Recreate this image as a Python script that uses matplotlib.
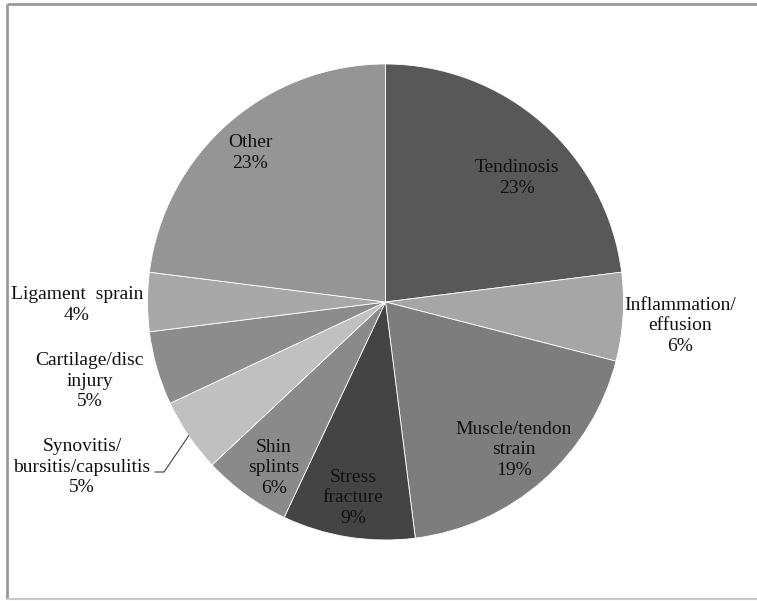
import numpy as np
import matplotlib
matplotlib.use('Agg')
import matplotlib.pyplot as plt

# injury types, clockwise from 12 o'clock
injuries = ['Tendinosis', 'Inflammation/\neffusion', 'Muscle/tendon\nstrain', 'Stress\nfracture',
            'Shin\nsplints', 'Synovitis/\nbursitis/capsulitis', 'Cartilage/disc\ninjury',
            'Ligament  sprain', 'Other']
percent = [23, 6, 19, 9, 6, 5, 5, 4, 23]
shades = ['#585858', '#a6a6a6', '#7d7d7d', '#444444', '#8a8a8a', '#c0c0c0', '#8c8c8c', '#a8a8a8', '#959595']

# where each label sits (pixel units, y measured from the top)
label_xy = [(517, 178), (680, 326), (514, 450), (353, 498), (274, 468),
            (82, 467), (90, 381), (77, 305), (250, 153)]

W, H = 757, 601
cx, cy, r = 385.5, 302, 238

plt.rcParams['font.family'] = ['Liberation Serif', 'DejaVu Serif']

fig = plt.figure(figsize=(W / 100, H / 100), dpi=100)
ax = fig.add_axes([0, 0, 1, 1])

wedges, _ = ax.pie(percent, colors=shades, startangle=90, counterclock=False,
                   center=(cx, H - cy), radius=r, frame=True,
                   wedgeprops=dict(edgecolor='white', linewidth=0.6))
ax.set_xlim(0, W)
ax.set_ylim(0, H)
ax.set_aspect('equal')
ax.axis('off')

for name, pct, (lx, ly) in zip(injuries, percent, label_xy):
    ax.text(lx, H - ly, f'{name}\n{pct}%', ha='center', va='center',
            fontsize=14, color='#111111', linespacing=1.3)

# leader line for the synovitis label
w = wedges[5]
mid = np.deg2rad((w.theta1 + w.theta2) / 2)
ex, ey = cx + r * np.cos(mid), (H - cy) + r * np.sin(mid)
ax.plot([155, 164, ex], [H - 472, H - 472, ey], color='#404040', lw=0.8)

# chart area border
ax.plot([7, 7], [H - 599, H - 4], color='#9a9a9a', lw=2, solid_capstyle='butt')
ax.plot([7, W], [H - 4, H - 4], color='#9a9a9a', lw=2, solid_capstyle='butt')
ax.plot([7, W], [H - 599, H - 599], color='#c8c8c8', lw=1.5, solid_capstyle='butt')

fig.savefig('out.png', dpi=100)
